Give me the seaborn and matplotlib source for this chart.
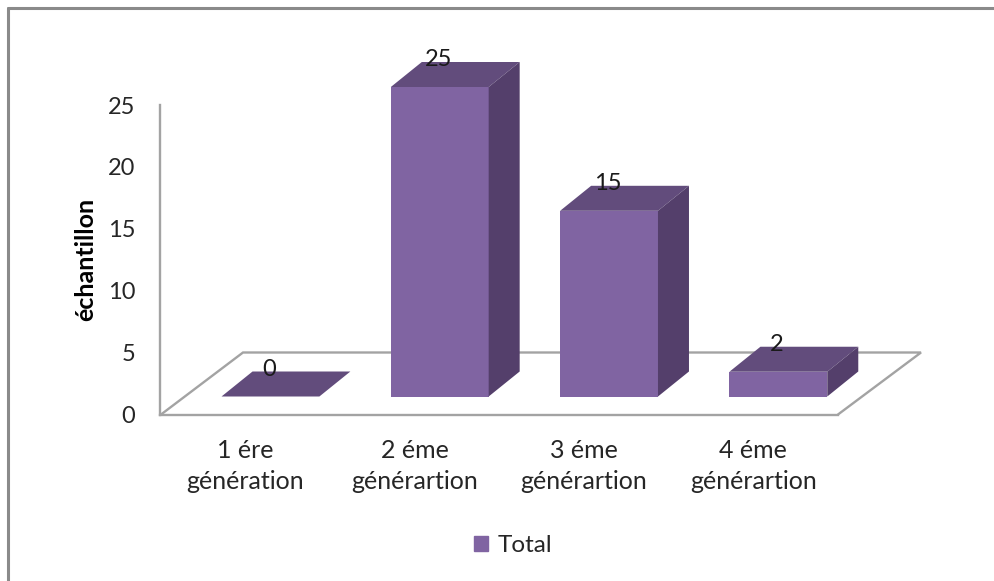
import matplotlib
matplotlib.use("Agg")
import matplotlib.pyplot as plt
import pandas as pd
import seaborn as sns

categories = ["1 ére\ngénération", "2 éme\ngénérartion", "3 éme\ngénérartion", "4 éme\ngénérartion"]
values = [0, 25, 15, 2]
series_name = "Total"
yticks = [0, 5, 10, 15, 20, 25]

W, H = 995, 581
FRONT, TOP, SIDE = "#8064A2", "#624C7C", "#543F6B"
LINE = "#A3A3A3"
DEPTH_X_PX, DEPTH_Y_PX = 31, 25

sns.set_theme(style="white")
plt.rcParams["font.family"] = ["Lato", "DejaVu Sans"]


def box(x0, y0, x1, y1):
    """Axes rectangle from pixel corners (y measured from the top)."""
    return [x0 / W, 1 - y1 / H, (x1 - x0) / W, (y1 - y0) / H]


def fig_xy(x, y):
    return x / W, 1 - y / H


fig = plt.figure(figsize=(W / 100, H / 100), dpi=100, facecolor="white")

# Outer chart border (only top and left are visible in the crop)
for xs, ys in (((8, W), (8, 8)), ((8, 8), (8, H))):
    fx, fy = zip(*[fig_xy(a, b) for a, b in zip(xs, ys)])
    fig.add_artist(plt.Line2D(fx, fy, color="#8A8A8A", lw=2.2, transform=fig.transFigure))

# Frame axes: value axis on the wall, category labels on the floor's front edge
ax_frame = fig.add_axes(box(160.5, 105, 838, 414.5), facecolor="none")
ax_frame.set_xlim(-0.5, len(categories) - 0.5)
ax_frame.set_ylim(0, 25)
ax_frame.set_yticks(yticks)
ax_frame.set_xticks(range(len(categories)))
ax_frame.set_xticklabels(categories, fontsize=18, color="#262626", linespacing=1.42)
ax_frame.tick_params(axis="y", length=0, pad=18, labelsize=17, labelcolor="#262626")
ax_frame.tick_params(axis="x", length=0, pad=17.5)
ax_frame.set_ylabel("échantillon", fontsize=18, fontweight="bold", color="black", labelpad=7.5)
sns.despine(ax=ax_frame, top=True, right=True)
for side in ("left", "bottom"):
    ax_frame.spines[side].set_color(LINE)
    ax_frame.spines[side].set_linewidth(1.7)

# Floor back edges
floor = [fig_xy(*p) for p in [(161, 414.5), (243, 352.5), (921, 352.5), (838, 414.5)]]
fx, fy = zip(*floor)
ax_frame.plot(fx, fy, color=LINE, lw=1.7, transform=fig.transFigure, clip_on=False, solid_joinstyle="miter")

# Bars: front plane of the 3D columns
x_left, x_right = 185.8, 863.0
y_zero, y_top = 396.5, 87.0
ax = fig.add_axes(box(x_left, y_top, x_right, y_zero), facecolor="none")
df = pd.DataFrame({"cat": categories, "val": values})
sns.barplot(data=df, x="cat", y="val", color=FRONT, saturation=1, width=0.578, ax=ax,
            label=series_name, legend=False)
ax.set_xlim(-0.5, len(categories) - 0.5)
ax.set_ylim(0, 25)
ax.axis("off")

dx = DEPTH_X_PX * (len(categories)) / (x_right - x_left)
dy = DEPTH_Y_PX * 25 / (y_zero - y_top)
for bar, v in zip(ax.patches, values):
    bar.set_edgecolor("none")
    bar.set_clip_on(False)
    x0, x1 = bar.get_x(), bar.get_x() + bar.get_width()
    ax.fill([x0, x1, x1 + dx, x0 + dx], [v, v, v + dy, v + dy], color=TOP, lw=0, clip_on=False, zorder=3)
    if v > 0:
        ax.fill([x1, x1 + dx, x1 + dx, x1], [0, dy, v + dy, v], color=SIDE, lw=0, clip_on=False, zorder=3)
    ax.annotate(str(v), ((x0 + x1) / 2, v), xytext=(-1.0, 19.5), textcoords="offset points",
                ha="center", va="center", fontsize=17, color="#1a1a1a", zorder=5,
                annotation_clip=False)

handle = plt.Rectangle((0, 0), 1, 1, color=FRONT)
fig.legend([handle], [series_name], loc="center", bbox_to_anchor=fig_xy(513, 546),
           frameon=False, fontsize=17.5, handlelength=0.58, handleheight=0.58,
           handletextpad=0.4, labelcolor="#262626", borderpad=0)

fig.savefig("out.png", dpi=100)
